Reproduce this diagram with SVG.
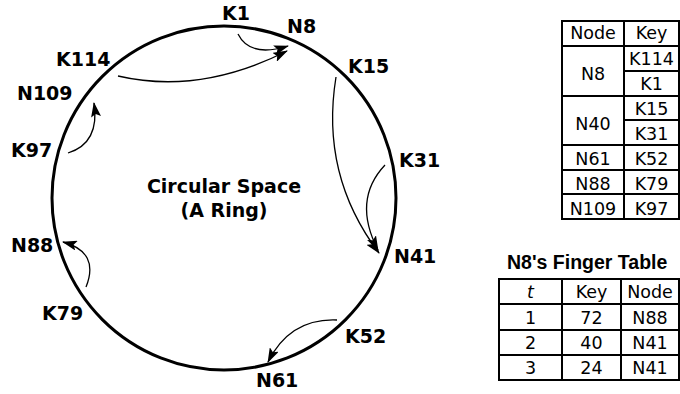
<svg xmlns="http://www.w3.org/2000/svg" width="680" height="394" viewBox="0 0 680 394">
<defs>
<style>
.lbl{font-family:"DejaVu Sans",Verdana,sans-serif;font-weight:bold;font-size:19px;fill:#000}
.ctr{font-family:"DejaVu Sans",Verdana,sans-serif;font-weight:bold;font-size:19px;fill:#000;text-anchor:middle}
.tb{font-family:"DejaVu Sans",Verdana,sans-serif;font-size:17.5px;fill:#000;text-anchor:middle}
.ttl{font-family:"Liberation Sans",Arial,sans-serif;font-weight:bold;font-size:19.5px;fill:#000}
.grid{stroke:#000;stroke-width:2;fill:none}
.arr{stroke:#000;stroke-width:1.3;fill:none;marker-end:url(#ah)}
</style>
<marker id="ah" markerUnits="userSpaceOnUse" markerWidth="15" markerHeight="10" viewBox="0 0 15 10" refX="14" refY="5" orient="auto">
<path d="M0,0 L15,5 L0,10 L3,5 Z" fill="#000"/>
</marker>
</defs>
<g id="ring">
<circle cx="224" cy="198" r="172" fill="none" stroke="#000" stroke-width="3"/>
<text class="ctr" x="224" y="193">Circular Space</text>
<text class="ctr" x="224" y="217">(A Ring)</text>
</g>
<g id="K1"><text class="lbl" x="222" y="20">K1</text></g>
<g id="N8"><text class="lbl" x="287" y="33">N8</text></g>
<g id="K114"><text class="lbl" x="56" y="66">K114</text></g>
<g id="N109"><text class="lbl" x="17" y="100">N109</text></g>
<g id="K97"><text class="lbl" x="11" y="157">K97</text></g>
<g id="N88"><text class="lbl" x="11" y="252">N88</text></g>
<g id="K79"><text class="lbl" x="42" y="320">K79</text></g>
<g id="N61"><text class="lbl" x="256" y="387">N61</text></g>
<g id="K52"><text class="lbl" x="345" y="343">K52</text></g>
<g id="N41"><text class="lbl" x="394" y="263">N41</text></g>
<g id="K31"><text class="lbl" x="399" y="167">K31</text></g>
<g id="K15"><text class="lbl" x="348" y="73">K15</text></g>
<g id="connectors">
<path class="arr" d="M238,34 Q250,58 288,46"/>
<path class="arr" d="M118,76 Q200,95 287,51"/>
<path class="arr" d="M336,77 Q320,175 379,253"/>
<path class="arr" d="M385,165 Q352,200 378,250"/>
<path class="arr" d="M337,320 Q290,318 268,362"/>
<path class="arr" d="M86,287 Q100,252 63,242"/>
<path class="arr" d="M68,153 Q100,143 94,103"/>
</g>
<g id="key-table">
<rect class="grid" x="562" y="21" width="117" height="198"/>
<path class="grid" d="M624,21 V219 M562,46 H679 M624,71 H679 M562,96 H679 M624,120 H679 M562,145 H679 M562,170 H679 M562,194 H679"/>
<text class="tb" x="593" y="39">Node</text>
<text class="tb" x="651.5" y="39">Key</text>
<text class="tb" x="593" y="80">N8</text>
<text class="tb" x="651.5" y="65">K114</text>
<text class="tb" x="651.5" y="90">K1</text>
<text class="tb" x="593" y="130">N40</text>
<text class="tb" x="651.5" y="115">K15</text>
<text class="tb" x="651.5" y="140">K31</text>
<text class="tb" x="593" y="165">N61</text>
<text class="tb" x="651.5" y="165">K52</text>
<text class="tb" x="593" y="190">N88</text>
<text class="tb" x="651.5" y="190">K79</text>
<text class="tb" x="593" y="215">N109</text>
<text class="tb" x="651.5" y="215">K97</text>
</g>
<g id="finger-table">
<text class="ttl" x="507" y="269">N8's Finger Table</text>
<rect class="grid" x="499" y="279" width="180" height="101"/>
<path class="grid" d="M562,279 V380 M621,279 V380 M499,304 H679 M499,330 H679 M499,355 H679"/>
<text class="tb" x="530.5" y="298" font-style="italic">t</text>
<text class="tb" x="591.5" y="298">Key</text>
<text class="tb" x="650" y="298">Node</text>
<text class="tb" x="530.5" y="324">1</text>
<text class="tb" x="591.5" y="324">72</text>
<text class="tb" x="650" y="324">N88</text>
<text class="tb" x="530.5" y="349">2</text>
<text class="tb" x="591.5" y="349">40</text>
<text class="tb" x="650" y="349">N41</text>
<text class="tb" x="530.5" y="374">3</text>
<text class="tb" x="591.5" y="374">24</text>
<text class="tb" x="650" y="374">N41</text>
</g>
</svg>
